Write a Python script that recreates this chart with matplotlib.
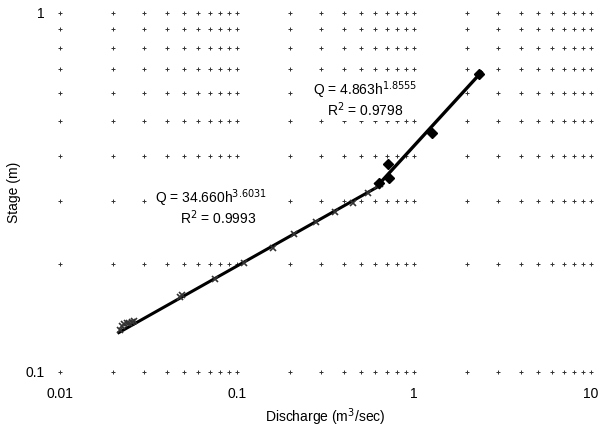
import numpy as np
import matplotlib.pyplot as plt

plt.rcParams['font.family'] = ['Liberation Sans', 'DejaVu Sans']

# low-flow observations (m3/s, m)
q_low = [0.0218, 0.0224, 0.0231, 0.0238, 0.0246, 0.0255, 0.0262, 0.0478, 0.0490,
         0.075, 0.11, 0.16, 0.21, 0.28, 0.36, 0.45, 0.55, 0.62, 0.64]
h_low = [0.131, 0.134, 0.136, 0.137, 0.137, 0.138, 0.139, 0.162, 0.164,
         0.182, 0.201, 0.222, 0.243, 0.262, 0.279, 0.296, 0.315, 0.330, 0.334]

# high-flow observations
q_high = [0.634, 0.713, 0.72, 1.26, 2.33]
h_high = [0.336, 0.380, 0.347, 0.463, 0.676]

# rating curves Q = a h^b
a_low, b_low = 34.660, 3.6031
a_high, b_high = 4.863, 1.8555

fig = plt.figure(figsize=(6.01, 4.30), dpi=100)
ax = fig.add_axes([0.0998, 0.1349, 0.8835, 0.8349])
ax.set_xscale('log')
ax.set_yscale('log')
ax.set_xlim(0.01, 10)
ax.set_ylim(0.1, 1)

# "+" grid at every minor intersection
gx = np.array([m * 10.0 ** e for e in (-2, -1, 0) for m in range(1, 10)] + [10.0])
gy = np.array([m * 0.1 for m in range(1, 11)])
GX, GY = np.meshgrid(gx, gy)
ax.plot(GX.ravel(), GY.ravel(), ls='none', marker='+', ms=3.5, mew=0.7,
        color='#333333', zorder=1, clip_on=False)

# fitted curves
q1 = np.geomspace(0.0215, 0.64, 100)
ax.plot(q1, (q1 / a_low) ** (1 / b_low), color='black', lw=2.2, zorder=3)
q2 = np.geomspace(0.63, 2.4, 100)
ax.plot(q2, (q2 / a_high) ** (1 / b_high), color='black', lw=2.4, zorder=3)

ax.plot(q_low, h_low, ls='none', marker='x', ms=5, mew=1.2, color='#333333', zorder=4)
ax.plot(q_high, h_high, ls='none', marker='D', ms=5.5, color='black', zorder=4)

box = dict(facecolor='white', edgecolor='none', pad=1)
ax.text(0.0344, 0.305, r'Q = 34.660h$^{3.6031}$', fontsize=10, va='center', bbox=box, zorder=2)
ax.text(0.0476, 0.269, r'R$^2$ = 0.9993', fontsize=10, va='center', bbox=box, zorder=2)
ax.text(0.269, 0.610, r'Q = 4.863h$^{1.8555}$', fontsize=10, va='center', bbox=box, zorder=2)
ax.text(0.322, 0.537, r'R$^2$ = 0.9798', fontsize=10, va='center', bbox=box, zorder=2)

for s in ax.spines.values():
    s.set_visible(False)
ax.set_xticks([0.01, 0.1, 1, 10])
ax.set_xticklabels(['0.01', '0.1', '1', '10'])
ax.set_yticks([0.1, 1])
ax.set_yticklabels(['0.1', '1'])
ax.minorticks_off()
ax.tick_params(length=0, labelsize=10, pad=11)
ax.tick_params(axis='x', pad=11)

ax.set_xlabel('Discharge (m$^3$/sec)', fontsize=10, labelpad=4)
ax.set_ylabel('Stage (m)', fontsize=10, labelpad=3)

fig.savefig('out.png', dpi=100)
